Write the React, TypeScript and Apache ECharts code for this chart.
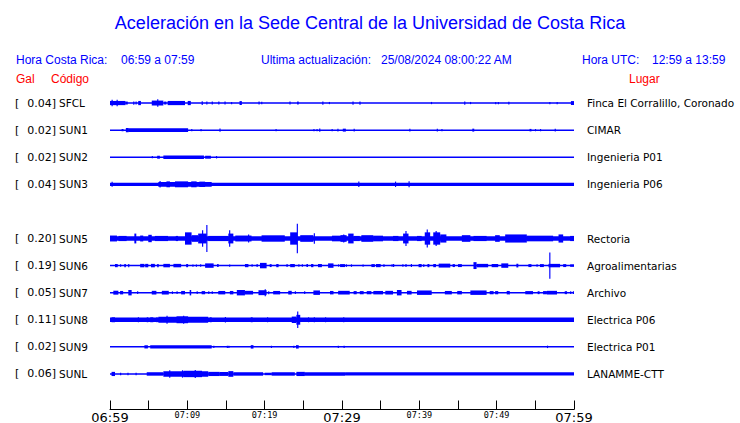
import React, { useEffect, useRef } from 'react';
import * as echarts from 'echarts';

// Rows of the seismogram display (empty row = gap between groups)
const codes = ['SFCL', 'SUN1', 'SUN2', 'SUN3', '', 'SUN5', 'SUN6', 'SUN7', 'SUN8', 'SUN9', 'SUNL'];
const peakGal = [0.04, 0.02, 0.02, 0.04, null, 0.2, 0.19, 0.05, 0.11, 0.02, 0.06];
const places = ['Finca El Corralillo, Coronado', 'CIMAR', 'Ingenieria P01', 'Ingenieria P06', '', 'Rectoria', 'Agroalimentarias', 'Archivo', 'Electrica P06', 'Electrica P01', 'LANAMME-CTT'];
// background noise half-amplitude of every trace (relative units)
const noiseFloor = [0.6, 0.6, 0.6, 1.3, 0, 1.9, 0.6, 0.6, 1.9, 0.6, 0.6];

// bursts: [fromMinute, toMinute, halfAmplitude] (minutes after 06:59)
const burstsSFCL = [[0, 2, 1.7], [0.2, 0.35, 2.7], [0.85, 1.0, 2.7], [2.0, 2.3, 1.2], [3.0, 3.15, 1.3], [3.3, 3.45, 1.2], [3.65, 4.0, 1.7], [5.4, 6.9, 2.0], [6.1, 6.25, 3.0], [7.0, 7.3, 1.2], [7.45, 9.7, 1.7], [10.05, 10.45, 1.7], [11.85, 12.0, 1.5], [12.45, 12.6, 1.2], [13.15, 13.3, 1.2], [14.0, 14.15, 1.2], [14.8, 14.95, 1.2], [15.65, 15.8, 0.9], [16.75, 17.05, 1.6], [19.2, 19.35, 1.2], [19.55, 19.7, 1.0], [23.2, 23.35, 1.2], [24.2, 24.4, 1.2], [27.45, 27.6, 1.3], [28.3, 28.45, 0.9], [31.35, 31.5, 1.3], [32.25, 32.4, 1.3], [41.5, 41.65, 0.9], [45.8, 45.95, 1.3], [46.55, 46.7, 0.9], [49.8, 49.95, 0.9], [50.15, 50.3, 0.9], [51.5, 51.65, 1.1], [56.8, 56.95, 0.9], [57.75, 57.9, 0.9], [59.6, 60, 1.6]];
const burstsSUN1 = [[1.5, 1.75, 1.0], [2.05, 2.4, 1.8], [2.35, 10.1, 1.6], [10.5, 10.65, 1.0], [11.7, 11.85, 1.0], [14.15, 14.3, 1.4], [21.4, 21.55, 0.9], [26.3, 26.45, 0.9], [26.7, 26.85, 0.9], [27.05, 27.2, 1.3], [28.65, 28.8, 1.0], [29.4, 29.55, 1.2], [30.1, 30.5, 1.2], [31.5, 31.65, 1.2], [38.7, 38.85, 1.2], [42.25, 42.4, 1.2], [42.85, 43.0, 0.9], [46.85, 47.1, 1.2], [54.25, 54.5, 1.0], [54.95, 55.1, 0.9], [55.6, 55.75, 0.9], [57.5, 57.65, 1.2]];
const burstsSUN2 = [[5.4, 5.55, 0.9], [6.1, 6.45, 1.2], [6.9, 12.15, 1.4], [12.3, 13.05, 1.2], [13.7, 13.85, 1.0]];
const burstsSUN3 = [[0.2, 0.35, 2.0], [6.25, 13.15, 1.9], [6.4, 6.55, 2.6], [7.3, 7.75, 2.4], [8.4, 10.1, 2.4], [10.5, 11.2, 2.4], [11.55, 12.3, 2.2], [32.1, 32.25, 2.2], [36.85, 37.0, 2.2], [38.6, 38.75, 2.4]];
const burstsSUN5 = [[0, 0.9, 2.4], [1.1, 2.15, 2.1], [3.15, 3.4, 4.0], [3.9, 4.3, 2.4], [4.95, 5.4, 3.0], [5.8, 7.5, 2.1], [8.5, 8.8, 2.1], [9.7, 10.55, 5.0], [10.55, 11.4, 2.7], [11.4, 12.5, 4.0], [11.9, 12.05, 6.7], [12.45, 12.6, 11], [12.7, 15.3, 2.1], [15.3, 15.95, 4.0], [15.4, 15.55, 6.7], [16.2, 18.3, 2.4], [17.85, 18.0, 3.3], [19.6, 22.6, 2.6], [23.3, 24.2, 5.0], [24.15, 24.3, 12], [24.6, 26.3, 2.7], [26.35, 26.5, 4.3], [28.7, 30.4, 2.3], [30.15, 30.3, 3.3], [29.8, 30.6, 2.7], [30.8, 31.5, 4.0], [31.5, 32.3, 2.1], [32.5, 34.05, 2.7], [34.05, 35.3, 2.3], [36.6, 37.3, 2.1], [37.9, 38.6, 4.0], [38.2, 38.35, 6.0], [39.7, 40.3, 2.1], [40.7, 41.4, 5.0], [40.95, 41.1, 7.3], [41.8, 42.7, 5.0], [42.1, 42.25, 6.0], [42.7, 43.5, 3.3], [45.5, 46.6, 2.7], [47, 48.7, 2.1], [49.8, 50.4, 2.7], [51.1, 53.9, 3.3], [53.9, 57.3, 2.3], [58, 58.6, 3.3], [59.5, 60, 2.1]];
const burstsSUN6 = [[0.65, 1.0, 1.3], [1.3, 1.45, 1.0], [1.85, 2.05, 1.3], [2.35, 2.5, 1.3], [3.9, 4.45, 1.4], [4.55, 4.95, 1.4], [5.3, 5.8, 1.4], [6.1, 6.3, 1.3], [6.9, 7.75, 1.4], [8.2, 9.2, 1.4], [9.85, 10.1, 1.3], [10.65, 10.8, 0.9], [11.1, 11.25, 0.9], [11.65, 11.8, 1.0], [12.3, 13.4, 1.8], [13.85, 14.05, 1.2], [15.4, 15.55, 0.9], [17.45, 17.9, 1.3], [18.3, 18.45, 1.0], [18.95, 19.1, 1.2], [19.4, 20.25, 2.2], [20.65, 20.9, 1.2], [21.5, 21.8, 1.3], [22.8, 23.0, 1.0], [23.3, 23.9, 1.3], [24.35, 24.5, 1.0], [24.8, 24.95, 1.0], [25.4, 25.6, 1.2], [26.0, 26.3, 1.3], [26.9, 27.4, 1.3], [28.2, 28.9, 1.8], [29.5, 29.6, 1.0], [29.75, 30.4, 1.2], [30.5, 30.65, 1.0], [31.15, 31.3, 1.0], [32.65, 32.8, 0.9], [33.8, 34.25, 1.2], [34.4, 35.0, 1.3], [35.35, 35.5, 1.1], [36.4, 36.55, 1.0], [36.6, 36.75, 1.2], [37.8, 37.95, 1.0], [38.2, 38.35, 1.2], [38.9, 39.05, 1.2], [39.9, 40.3, 1.3], [40.5, 40.65, 1.1], [41.05, 41.3, 1.3], [41.8, 42.15, 1.3], [42.5, 44.0, 1.6], [44.3, 44.6, 1.2], [45.0, 45.5, 1.2], [47.0, 47.4, 2.8], [47.4, 48.9, 1.4], [49.35, 50.2, 1.3], [50.6, 51.5, 1.8], [52.55, 52.8, 1.5], [54.1, 54.5, 1.2], [55.15, 55.3, 1.0], [55.6, 56.1, 1.2], [56.7, 58.2, 1.4], [56.8, 56.95, 10.7], [58.6, 59.0, 1.2], [59.5, 60, 1.0]];
const burstsSUN7 = [[0.43, 1.08, 1.6], [1.3, 1.7, 1.4], [2.37, 2.8, 2.2], [3.5, 3.65, 1.1], [5.4, 6.0, 1.5], [6.7, 7.6, 1.5], [8.0, 8.15, 1.1], [8.6, 8.75, 1.1], [9.2, 9.7, 1.4], [10.3, 10.5, 2.2], [11.2, 11.35, 1.1], [11.85, 12.3, 1.3], [12.7, 12.85, 1.1], [13.15, 13.3, 1.1], [14.0, 14.9, 1.4], [15.5, 15.95, 1.4], [16.4, 17.45, 2.2], [17.45, 18.5, 1.5], [19.2, 20.25, 2.0], [20.0, 20.15, 2.8], [20.45, 20.6, 1.2], [21.1, 22.0, 1.4], [23.05, 23.5, 1.5], [23.9, 24.05, 1.1], [25.1, 25.25, 1.1], [26.3, 27.15, 1.8], [28.45, 28.9, 1.4], [29.5, 31.0, 1.5], [31.5, 31.9, 1.3], [32.3, 32.8, 1.3], [33.2, 33.8, 1.3], [34.05, 35.3, 1.4], [35.6, 36.6, 1.5], [37.1, 37.7, 2.2], [38.4, 39.0, 1.5], [39.7, 41.6, 1.8], [43.3, 44.2, 1.4], [44.9, 45.5, 1.4], [46.6, 48.7, 1.8], [49.1, 49.6, 1.3], [49.8, 50.2, 1.3], [51.3, 51.7, 1.4], [53.7, 54.7, 1.3], [55.3, 55.55, 1.2], [56.0, 56.5, 1.3], [56.5, 57.8, 1.5], [58.8, 59.1, 1.2], [59.5, 59.65, 1.1], [59.85, 60, 1.1]];
const burstsSUN8 = [[0.2, 0.65, 2.0], [3.6, 3.75, 2.0], [4.75, 4.95, 2.0], [5.2, 5.6, 2.0], [6.0, 6.15, 2.0], [6.25, 12.7, 2.4], [7.3, 7.45, 3.3], [8.6, 10.1, 2.8], [9.45, 9.6, 3.3], [12.9, 13.15, 2.0], [14.85, 15.0, 2.3], [18.2, 18.45, 2.0], [20.3, 20.45, 2.0], [23.5, 24.1, 2.6], [24.1, 24.6, 4.0], [24.2, 24.35, 6.7], [25.6, 25.75, 2.0], [26.35, 26.5, 2.0], [27.8, 27.95, 2.0], [30.15, 30.3, 2.0]];
const burstsSUN9 = [[4.45, 4.9, 1.3], [5.2, 13.15, 1.4], [13.35, 13.5, 1.0], [15.1, 15.25, 1.0], [15.3, 15.45, 1.0], [18.2, 18.55, 1.4], [20.8, 20.95, 0.9], [23.7, 23.85, 1.0], [24.05, 24.4, 1.4], [29.45, 29.6, 1.0], [30.2, 30.35, 1.0], [56.5, 56.65, 1.0]];
const burstsSUNL = [[0.2, 0.65, 1.7], [1.3, 1.45, 1.0], [2.25, 2.4, 1.0], [3.3, 3.45, 1.0], [4.75, 6.9, 1.4], [6.9, 12.7, 2.2], [7.65, 7.8, 3.0], [9.3, 9.45, 3.0], [9.5, 11.9, 2.6], [10.95, 11.1, 3.2], [12.7, 14.2, 1.7], [14.2, 15.3, 1.6], [15.3, 15.95, 2.3], [15.95, 19.8, 1.4], [20.0, 20.9, 1.0], [20.9, 23.9, 1.4], [24.1, 25.2, 1.7], [25.2, 30.4, 1.4], [30.4, 60, 1.3]];

const burstsByRow = [burstsSFCL, burstsSUN1, burstsSUN2, burstsSUN3, [], burstsSUN5, burstsSUN6, burstsSUN7, burstsSUN8, burstsSUN9, burstsSUNL];

const AMP_UNITS_PER_ROW = 22;
const START_MIN = 6 * 60 + 59;
const SPAN_MIN = 60;

function hhmm(m: number) {
  const h = Math.floor(m / 60);
  const mm = m % 60;
  return String(h).padStart(2, '0') + ':' + String(mm).padStart(2, '0');
}

export default function App() {
  const ref = useRef<HTMLDivElement>(null);
  useEffect(() => {
    if (!ref.current) return;
    const chart = echarts.init(ref.current, undefined, { renderer: 'svg' });
    const data: number[][] = [];
    codes.forEach((c, row) => {
      if (!c) return;
      data.push([row, 0, SPAN_MIN, noiseFloor[row]]);
      burstsByRow[row].forEach((b) => data.push([row, b[0], b[1], b[2]]));
    });
    const blue = '#0000ff';
    const hdr = { fontFamily: 'Liberation Sans', fontSize: 12, fill: blue };
    const red = { fontFamily: 'Liberation Sans', fontSize: 12, fill: '#ff0000' };
    chart.setOption({
      animation: false,
      title: {
        text: 'Aceleración en la Sede Central de la Universidad de Costa Rica',
        left: 'center',
        top: 14,
        padding: 0,
        textStyle: { color: blue, fontSize: 18, fontWeight: 'normal', fontFamily: 'Liberation Sans' },
      },
      graphic: [
        { type: 'text', x: 16, y: 60, style: { ...hdr, text: 'Hora Costa Rica:', verticalAlign: 'middle' } },
        { type: 'text', x: 121, y: 60, style: { ...hdr, text: hhmm(START_MIN) + ' a ' + hhmm(START_MIN + SPAN_MIN), verticalAlign: 'middle' } },
        { type: 'text', x: 261, y: 60, style: { ...hdr, text: 'Ultima actualización:', verticalAlign: 'middle' } },
        { type: 'text', x: 381, y: 60, style: { ...hdr, text: '25/08/2024 08:00:22 AM', verticalAlign: 'middle' } },
        { type: 'text', x: 582, y: 60, style: { ...hdr, text: 'Hora UTC:', verticalAlign: 'middle' } },
        { type: 'text', x: 652, y: 60, style: { ...hdr, text: hhmm(START_MIN + 360) + ' a ' + hhmm(START_MIN + 360 + SPAN_MIN), verticalAlign: 'middle' } },
        { type: 'text', x: 16, y: 79, style: { ...red, text: 'Gal', verticalAlign: 'middle' } },
        { type: 'text', x: 51, y: 79, style: { ...red, text: 'Código', verticalAlign: 'middle' } },
        { type: 'text', x: 629, y: 79, style: { ...red, text: 'Lugar', verticalAlign: 'middle' } },
      ],
      grid: { left: 110, width: 464, top: 89.5, height: 298, outerBoundsMode: 'none', containLabel: false },
      xAxis: {
        type: 'value',
        min: 0,
        max: SPAN_MIN,
        interval: 5,
        offset: 22,
        axisLine: { show: true, lineStyle: { color: '#000', width: 1 } },
        axisTick: { show: true, inside: true, length: 9, lineStyle: { color: '#000' } },
        splitLine: { show: false },
        axisLabel: {
          margin: 1,
          showMinLabel: true,
          showMaxLabel: true,
          formatter: (v: number) => {
            const s = hhmm(START_MIN + v);
            if (v % 30 === 0) return '{big|' + s + '}';
            if (v % 10 === 0) return '{small|' + s + '}';
            return '';
          },
          rich: {
            big: { fontSize: 13, fontFamily: 'DejaVu Sans', color: '#000' },
            small: { fontSize: 8.5, fontFamily: 'DejaVu Sans Mono', color: '#000' },
          },
        },
      },
      yAxis: [
        {
          type: 'category',
          data: codes,
          inverse: true,
          axisLine: { show: false },
          axisTick: { show: false },
          splitLine: { show: false },
          axisLabel: {
            interval: 0,
            align: 'left',
            margin: 95,
            formatter: (v: string, i: number) =>
              v ? '{b|[}{v|' + (peakGal[i] as number).toFixed(2) + ']}{c|' + v + '}' : '',
            rich: {
              b: { fontSize: 11, fontFamily: 'DejaVu Sans', color: '#000' },
              v: { fontSize: 11, fontFamily: 'DejaVu Sans', color: '#000', padding: [0, 0, 0, 8] },
              c: { fontSize: 10.5, fontFamily: 'DejaVu Sans', color: '#000', padding: [0, 0, 0, 3] },
            },
          },
        },
        {
          type: 'category',
          data: codes,
          inverse: true,
          position: 'right',
          axisLine: { show: false },
          axisTick: { show: false },
          splitLine: { show: false },
          axisLabel: {
            interval: 0,
            margin: 13,
            formatter: (_v: string, i: number) => places[i],
            fontSize: 10.5,
            fontFamily: 'DejaVu Sans',
            color: '#000',
          },
        },
      ],
      series: [
        {
          type: 'custom',
          yAxisIndex: 0,
          clip: false,
          encode: { x: [1, 2], y: 0 },
          data,
          renderItem: (_params: any, api: any) => {
            const row = api.value(0);
            const a = api.value(1);
            const b = api.value(2);
            const h = api.value(3);
            const p0 = api.coord([a, row]);
            const p1 = api.coord([b, row]);
            const rowPx = api.size([0, 1])[1];
            const hp = Math.max((h * rowPx) / AMP_UNITS_PER_ROW, 0.6);
            const w = Math.max(p1[0] - p0[0], 1);
            return {
              type: 'rect',
              shape: { x: p0[0], y: p0[1] - hp, width: w, height: 2 * hp },
              style: { fill: blue },
            };
          },
        },
      ],
    });
    return () => chart.dispose();
  }, []);
  return <div ref={ref} style={{ width: 740, height: 423, position: 'absolute', left: 0, top: 0 }} />;
}
